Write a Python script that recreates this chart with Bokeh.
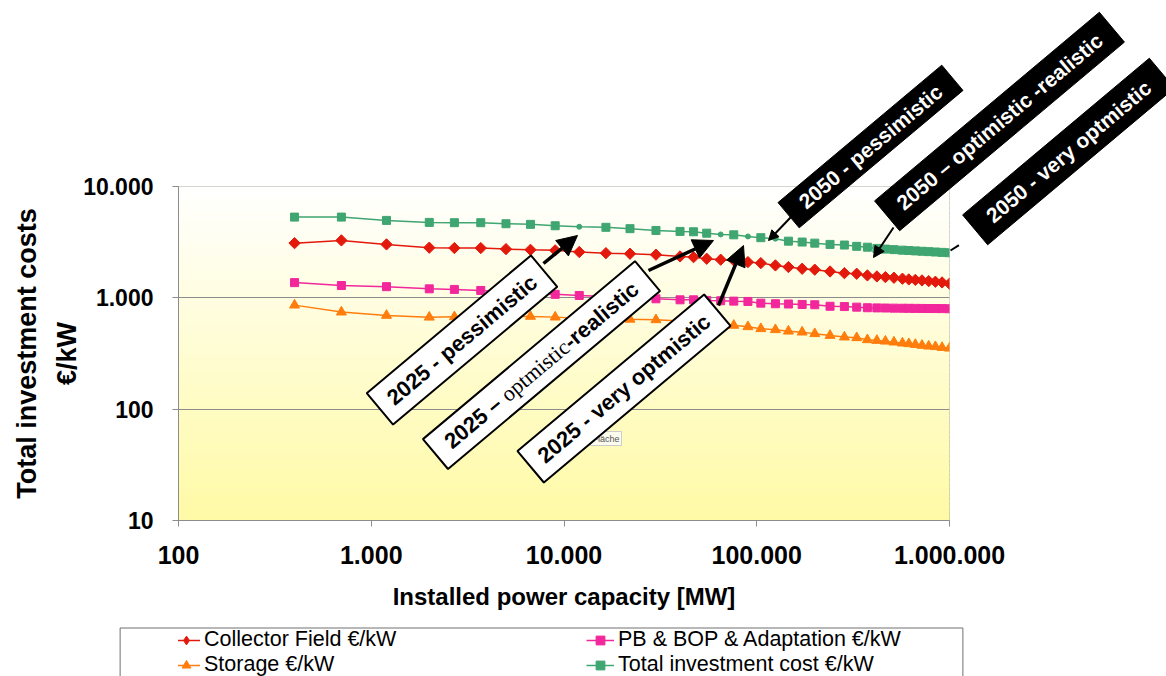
import math
from bokeh.plotting import figure
from bokeh.layouts import column
from bokeh.models import Range1d, FixedTicker, Label, Arrow, NormalHead, Legend, LegendItem
from bokeh.embed import file_html
from bokeh.resources import INLINE

# ---------------- data ----------------
capacity_mw = [400, 700, 1200, 2000, 2700, 3700, 5000, 6700, 9000, 12000,
               16500, 22000, 30000, 40000, 47000, 55000, 65000, 76000, 90000, 105000,
               125000, 146000, 172000, 200000, 240000, 285000, 330000, 375000, 420000, 465000,
               515000, 570000, 615000, 665000, 720000, 780000, 845000, 915000, 1000000]
collector_field = [3100, 3280, 3020, 2820, 2800, 2800, 2740, 2700, 2670, 2580,
                   2520, 2490, 2440, 2355, 2320, 2245, 2200, 2170, 2095, 2050,
                   1955, 1890, 1825, 1790, 1725, 1665, 1645, 1590, 1557, 1535,
                   1515, 1485, 1463, 1450, 1433, 1413, 1395, 1375, 1340]
pb_bop = [1370, 1290, 1260, 1205, 1190, 1165, 1120, 1090, 1075, 1050,
          1030, 1015, 980, 960, 960, 948, 942, 934, 928, 896,
          885, 880, 872, 867, 840, 835, 825, 815, 812, 810,
          808, 806, 805, 804, 803, 802, 801, 800, 798]
storage = [860, 745, 695, 670, 675, 680, 683, 681, 671, 655,
           650, 642, 635, 620, 612, 600, 585, 566, 550, 528,
           517, 502, 492, 476, 459, 444, 438, 420, 414, 408,
           400, 392, 387, 381, 374, 368, 364, 358, 353]
total_cost = [5310, 5310, 4960, 4760, 4730, 4730, 4630, 4570, 4440, 4350,
              4300, 4180, 4030, 3950, 3920, 3810, 3710, 3680, 3560, 3470,
              3400, 3230, 3170, 3100, 3020, 2980, 2900, 2850, 2780, 2740,
              2710, 2680, 2660, 2640, 2620, 2600, 2580, 2560, 2540]
total_small_marker_idx = [9, 16, 18, 20]

series_names = ["Collector Field €/kW", "PB & BOP & Adaptation €/kW",
                "Storage €/kW", "Total investment cost €/kW"]

x_ticks = [100, 1000, 10000, 100000, 1000000]
x_tick_labels = ["100", "1.000", "10.000", "100.000", "1.000.000"]
y_ticks = [10, 100, 1000, 10000]
y_tick_labels = ["10", "100", "1.000", "10.000"]

x_title = "Installed power capacity [MW]"
y_title = ["Total investment costs", "€/kW"]

notes_2025 = ["2025 - pessimistic", "2025 – optmistic-realistic", "2025 - very optmistic"]
note_2025_parts = ["2025 – ", "optmistic", "-realistic"]
notes_2050 = ["2050 - pessimistic", "2050 – optimistic -realistic", "2050 - very optmistic"]

# ---------------- layout ----------------
W, H = 1166, 676
FL, FR, FT, FB = 178, 949, 186, 520
HA = 620            # height of the chart figure; the legend strip fills the rest
FONT = "Liberation Sans"
SERIF = "Liberation Serif"


def X(px):
    return 10 ** (2 + 4 * (px - FL) / (FR - FL))


def Y(py):
    return 10 ** (1 + 3 * (FB - py) / (FB - FT))


p = figure(frame_width=FR - FL, frame_height=FB - FT,
           min_border_left=FL, min_border_right=W - FR,
           min_border_top=FT, min_border_bottom=HA - FB,
           x_axis_type="log", y_axis_type="log",
           x_range=Range1d(100, 1e6), y_range=Range1d(10, 1e4),
           output_backend="svg", toolbar_location=None)
p.border_fill_color = "white"
p.outline_line_color = "#8c8c8c"

# gradient plot area (white top -> pale yellow bottom)
n = 70
bots, tops, cols = [], [], []
for i in range(n):
    bots.append(10 ** (1 + 3 * i / n))
    tops.append(10 ** (1 + 3 * (i + 1) / n))
    t = (i + 0.5) / n
    g = round(250 + (255 - 250) * t)
    b = round(165 + (255 - 165) * t)
    cols.append("#%02x%02x%02x" % (255, g, b))
p.quad(left=[100] * n, right=[1e6] * n, bottom=bots, top=tops,
       fill_color=cols, line_color=cols, line_width=1, level="image")

# axes
for ax, ticks, labels, fs, so in ((p.xaxis, x_ticks, x_tick_labels, "25px", 19),
                                  (p.yaxis, y_ticks, y_tick_labels, "23px", 19)):
    ax.ticker = FixedTicker(ticks=ticks)
    ax.major_label_overrides = {t: l for t, l in zip(ticks, labels)}
    ax.minor_tick_line_color = None
    ax.major_tick_in = 0
    ax.major_tick_out = 6
    ax.axis_line_color = "#8c8c8c"
    ax.major_tick_line_color = "#8c8c8c"
    ax.major_label_text_font = FONT
    ax.major_label_text_font_style = "bold"
    ax.major_label_text_font_size = fs
    ax.major_label_text_color = "black"
    ax.major_label_standoff = so

p.xaxis.axis_label = x_title
p.xaxis.axis_label_text_font = FONT
p.xaxis.axis_label_text_font_style = "bold"
p.xaxis.axis_label_text_font_size = "24px"
p.xaxis.axis_label_text_color = "black"
p.xaxis.axis_label_standoff = 16

p.xgrid.visible = False
p.ygrid.ticker = FixedTicker(ticks=[100, 1000])
p.ygrid.grid_line_color = "#8c8c8c"

# series
RED, PINK, ORANGE, GREEN = "#E3190C", "#F2279C", "#FF7D0C", "#3FA571"
STY = [dict(color=RED, marker="square", angle=math.pi / 4, size=8),
       dict(color=PINK, marker="square", angle=0, size=8),
       dict(color=ORANGE, marker="triangle", angle=0, size=10),
       dict(color=GREEN, marker="square", angle=0, size=8)]

for vals, st in zip((collector_field, pb_bop, storage), STY[:3]):
    p.line(capacity_mw, vals, line_color=st["color"], line_width=1.5)
    p.scatter(capacity_mw, vals, marker=st["marker"], angle=st["angle"],
              size=st["size"], color=st["color"])
p.line(capacity_mw, total_cost, line_color=GREEN, line_width=1.5)
big = [i for i in range(len(capacity_mw)) if i not in total_small_marker_idx]
p.scatter([capacity_mw[i] for i in big], [total_cost[i] for i in big],
          marker="square", size=8, color=GREEN)
p.scatter([capacity_mw[i] for i in total_small_marker_idx],
          [total_cost[i] for i in total_small_marker_idx],
          marker="circle", size=5, color=GREEN)

# y title (two lines) – placed in the left panel so it is not clipped
for txt, px in zip(y_title, (26, 66)):
    p.add_layout(Label(x=X(px), y=Y(353), text=txt, angle=math.pi / 2,
                       text_align="center", text_baseline="middle",
                       text_font=FONT, text_font_style="bold",
                       text_font_size="27px", text_color="black"), "left")

# little tooltip remnant
p.add_layout(Label(x=X(621), y=Y(438), text="Fläche", text_align="right",
                   text_baseline="middle", text_font=FONT, text_font_size="9px",
                   text_color="#555555", background_fill_color="#FBFBEE",
                   border_line_color="#cccccc", padding=2))

# scenario boxes
ANG = math.radians(40)
UX, UY = math.cos(ANG), -math.sin(ANG)  # text direction in screen pixels

for txt, (cx, cy), pad in ((notes_2025[0], (461.5, 339.5), (13, 8)),
                           (notes_2025[2], (623.5, 388), (13, 8))):
    p.add_layout(Label(x=X(cx), y=Y(cy), text=txt, angle=ANG,
                       text_align="center", text_baseline="middle",
                       text_font=FONT, text_font_style="bold", text_font_size="22px",
                       text_color="black", background_fill_color="white",
                       border_line_color="black", border_line_width=2, padding=pad))

cx, cy = 541, 364.6
p.add_layout(Label(x=X(cx), y=Y(cy), text=" ", angle=ANG, text_font_size="10px",
                   text_align="center", text_baseline="middle",
                   background_fill_color="white", border_line_color="black",
                   border_line_width=2, padding=(137, 14)))
seg_w = [73.4, 81.9, 90.5]
start = -sum(seg_w) / 2
offs = [start, start + seg_w[0], start + seg_w[0] + seg_w[1]]
for txt, off, fnt, sty in zip(note_2025_parts, offs, (FONT, SERIF, FONT),
                              ("bold", "normal", "bold")):
    p.add_layout(Label(x=X(cx + off * UX), y=Y(cy + off * UY), text=txt, angle=ANG,
                       text_align="left", text_baseline="middle",
                       text_font=fnt, text_font_style=sty, text_font_size="22px",
                       text_color="black"))

boxes_2050 = [((870, 146), (17, 5)), ((999, 121), (16, 8)), ((1068, 151), (18, 8))]
for txt, ((cx, cy), pad) in zip(notes_2050, boxes_2050):
    p.add_layout(Label(x=X(cx), y=Y(cy), text=txt, angle=ANG,
                       text_align="center", text_baseline="middle",
                       text_font=FONT, text_font_style="bold", text_font_size="21px",
                       text_color="white", background_fill_color="black",
                       border_line_color="black", border_line_width=1, padding=pad), "right")

# arrows
arrows = [((543, 263), (577, 235), 20, 3.5, "center"), ((648, 270), (713, 240), 20, 3.5, "center"),
          ((718, 305), (743, 245), 20, 3.5, "center"), ((790, 217), (768, 240), 10, 2, "center"),
          ((893, 227), (873, 257), 11, 2, "center"), ((977, 233), (950, 250), 10, 2, "right")]
for (x0, y0), (x1, y1), hs, lw, place in arrows:
    p.add_layout(Arrow(x_start=X(x0), y_start=Y(y0), x_end=X(x1), y_end=Y(y1),
                       line_color="black", line_width=lw,
                       end=NormalHead(size=hs, fill_color="black", line_color="black")), place)

# ---------------- legend strip (second figure, its frame is aligned with the chart's) ----------------
HB = H - HA
q = figure(frame_width=W, frame_height=HB, min_border=0,
           x_axis_location=None, y_axis_location=None,
           x_range=Range1d(0, W), y_range=Range1d(0, HB),
           output_backend="svg", toolbar_location=None)
q.outline_line_color = None
q.border_fill_color = "white"
q.background_fill_color = "white"
q.xgrid.visible = False
q.ygrid.visible = False

LEG_MARK = [dict(marker="diamond", size=13), dict(marker="square", size=8),
            dict(marker="triangle", size=10), dict(marker="square", size=8)]
items = []
for name, st, lm in zip(series_names, STY, LEG_MARK):
    # one point far outside the visible strip, only to give the legend its glyph style
    lr = q.line([-1000, -990], [-1000, -1000], line_color=st["color"], line_width=1.5)
    sr = q.scatter([-1000], [-1000], marker=lm["marker"], size=lm["size"],
                   color=st["color"])
    items.append(LegendItem(label=name, renderers=[lr, sr]))
# columns are filled first: CF, Storage | PB, Total
legend = Legend(items=[items[0], items[2], items[1], items[3]],
                ncols=2, location=(172 - FL - 1, -2),
                border_line_alpha=0, background_fill_alpha=0,
                label_text_font=FONT, label_text_font_size="21.5px",
                label_text_color="black",
                glyph_width=28, glyph_height=22, label_height=22,
                label_width=382, padding=1, spacing=0, margin=0, label_standoff=4)
q.add_layout(legend)
# legend frame
q.add_layout(Label(x=541 - FL, y=HB - 34, text=" ", text_font_size="10px",
                   text_align="center", text_baseline="middle",
                   background_fill_color=None, border_line_color="#707070",
                   border_line_width=1, padding=(420, 21)), "right")

open("out.html", "w").write(file_html(column(p, q, spacing=0), INLINE))
